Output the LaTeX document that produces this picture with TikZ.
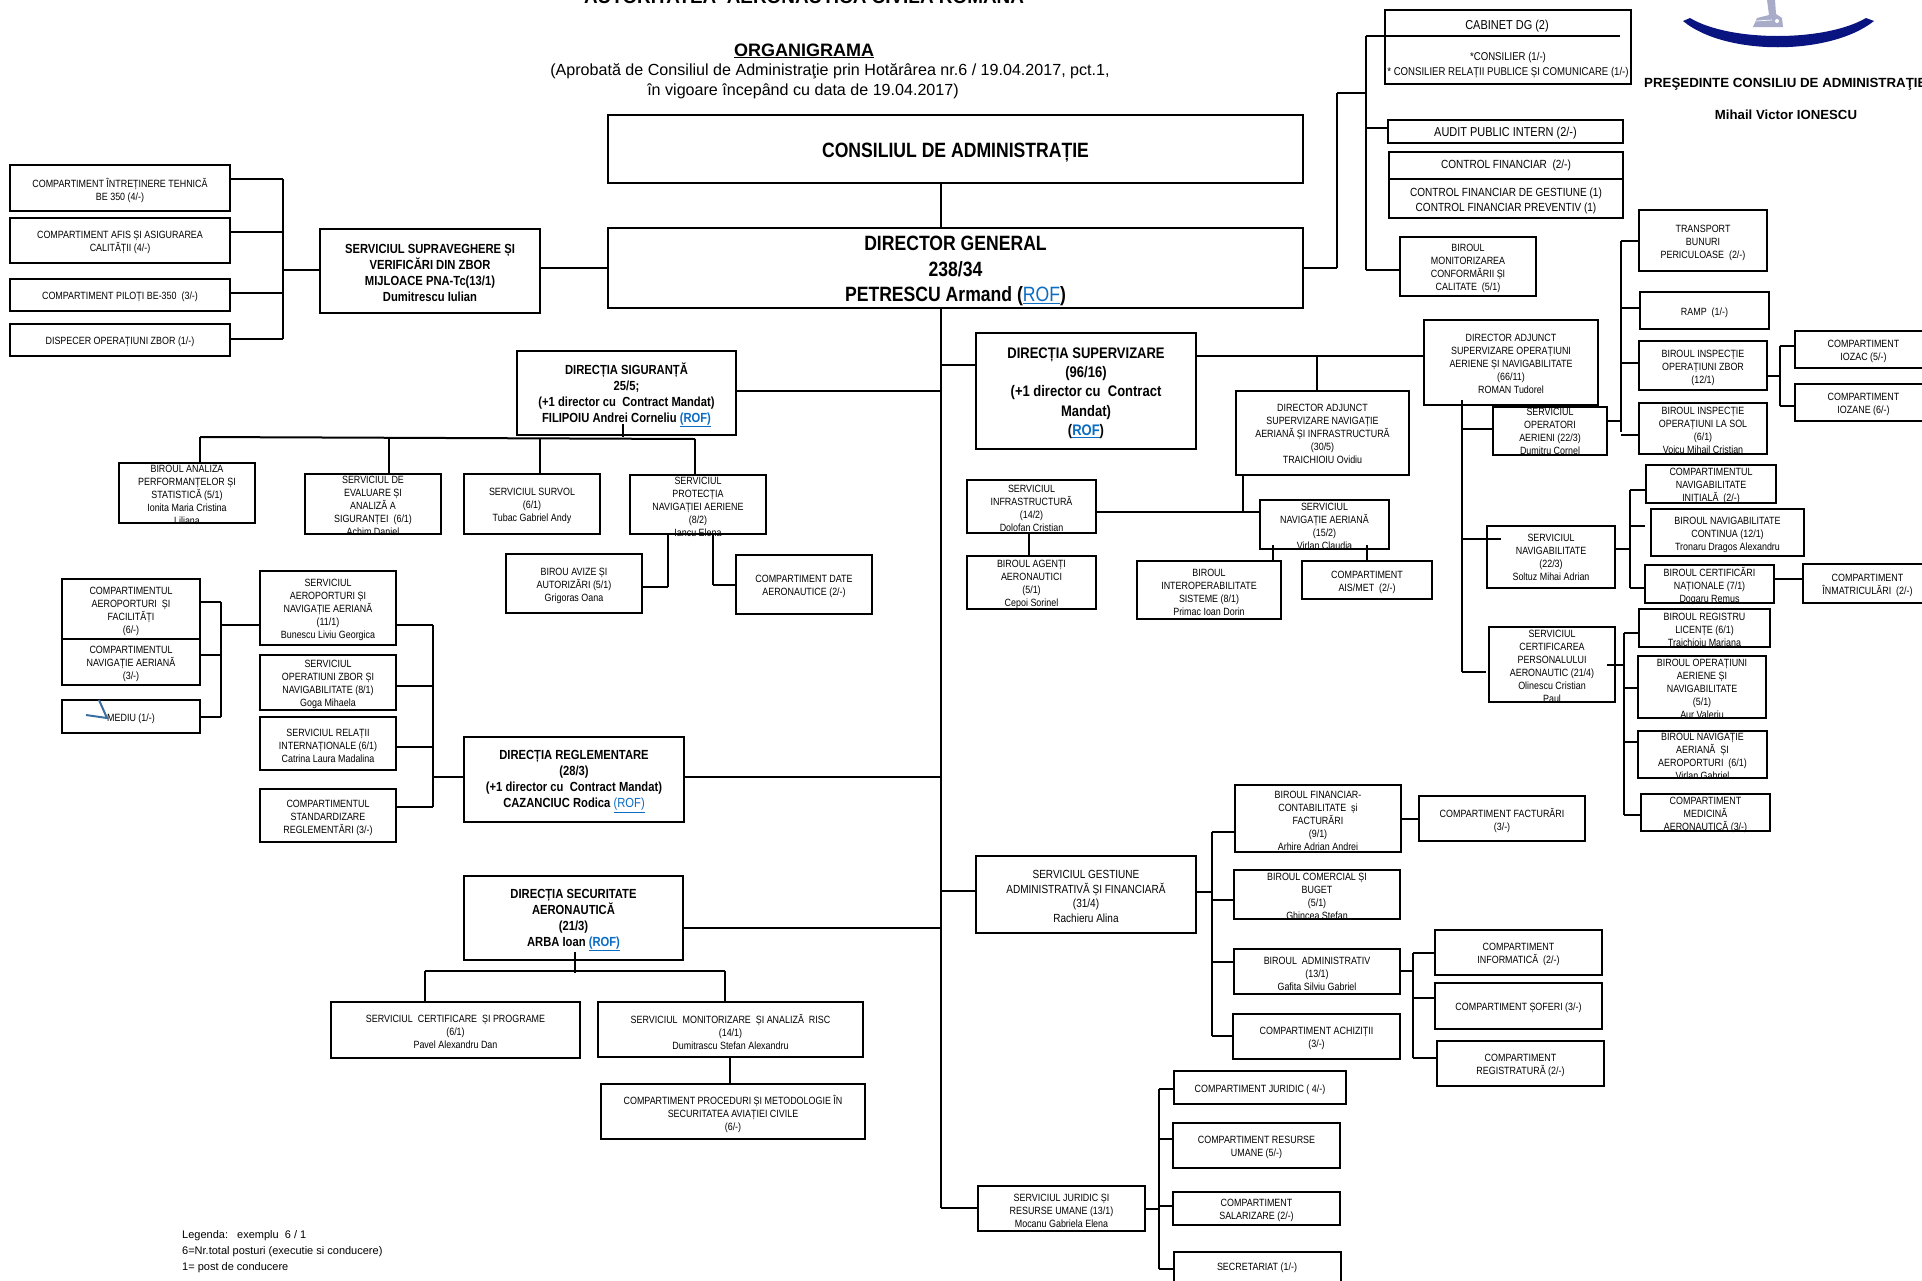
\documentclass[tikz,border=0pt]{standalone}
\usepackage{fontspec}
\setmainfont[FakeStretch=0.85]{Liberation Sans}
\newfontfamily\plainf{Liberation Sans}
\definecolor{rof}{HTML}{0B6CC4}
\definecolor{navy1}{HTML}{0A1480}
\definecolor{logog}{HTML}{A8ACC8}
\newcommand{\fsz}[2]{\fontsize{#1pt}{#2pt}\selectfont}
\newcommand{\rofa}{{\color{rof}\underline{(ROF)}}}
\tikzset{
  boxs/.style={draw=black,line width=1.4pt,inner sep=0pt,rectangle},
  ln/.style={draw=black,line width=1.3pt},
  lnt/.style={draw=black,line width=2pt},
  ts/.style={align=center,inner sep=0pt,font=\fsz{10.5}{13}},
  tm/.style={align=center,inner sep=0pt,font=\fsz{11.8}{14.5}},
  tl/.style={align=center,inner sep=0pt,font=\fsz{12.9}{14.3}},
  tb/.style={align=center,inner sep=0pt,font=\fsz{13.2}{16}\bfseries},
  th/.style={align=center,inner sep=0pt,font=\fsz{15.3}{19.3}\bfseries},
  tg/.style={align=center,inner sep=0pt,font=\fsz{20.7}{25.5}\bfseries},
}
% box: style, name, x1,y1,x2,y2, text
\newcommand{\bx}[7][ts]{%
  \pgfmathsetmacro{\bw}{#5-#3}\pgfmathsetmacro{\bh}{#6-#4}%
  \pgfmathsetmacro{\bcx}{(#5+#3)/2}\pgfmathsetmacro{\bcy}{(#6+#4)/2}%
  \node[boxs,minimum width=\bw pt,minimum height=\bh pt] (#2) at (\bcx,\bcy) {};%
  \node[#1,yshift=-2pt] (#2-t) at (#2.center) {#7};%
}
\newcommand{\hlin}[4][ln]{\draw[#1] (#3 |- 0,#2) -- (#4 |- 0,#2);}
\newcommand{\vlin}[4][ln]{\draw[#1] (#3 -| #2,0) -- (#4 -| #2,0);}
\begin{document}
\begin{tikzpicture}[x=1pt,y=-1pt]
\clip (0,0) rectangle (1922,1280);
\fill[white] (0,0) rectangle (1922,1280);
% header
\node[anchor=base,inner sep=0pt,font=\plainf\fsz{18.9}{22}\bfseries] (hdr) at (804,3) {AUTORITATEA~ AERONAUTICĂ CIVILĂ ROMÂNĂ};
\node[anchor=base,inner sep=0pt,font=\plainf\fsz{18}{22}\bfseries] (org) at (804,56) {\underline{ORGANIGRAMA}};
\node[anchor=base,inner sep=0pt,font=\plainf\fsz{16.1}{18}] (sub1) at (830,75.5) {(Aprobată de Consiliul de Administraţie prin Hotărârea nr.6 / 19.04.2017, pct.1,};
\node[anchor=base,inner sep=0pt,font=\plainf\fsz{16.1}{18}] (sub2) at (803,95) {în vigoare începând cu data de 19.04.2017)};
% logo
\fill[navy1] (1690,18) .. controls (1730,42) and (1825,42) .. (1866,18) -- (1874,21) .. controls (1830,56) and (1725,56) .. (1683,21) -- cycle;
\fill[logog] (1753,27) -- (1783,27) -- (1782,18) -- (1776,14) -- (1775,0) -- (1767,0) -- (1769,15) -- (1757,18) -- cycle;
\fill[white] (1777,21) circle (2pt);
\draw[white,line width=0.7pt] (1756,21) -- (1772,20);
\node[anchor=base west,inner sep=0pt,font=\plainf\fsz{13.3}{16}\bfseries] (pres) at (1644,87) {PREŞEDINTE CONSILIU DE ADMINISTRAŢIE};
\node[anchor=base,inner sep=0pt,font=\plainf\fsz{13.2}{16}\bfseries] (pname) at (1786,119) {Mihail Victor IONESCU};
% main
\bx[tg,yshift=-2pt]{cons}{608}{115}{1303}{183}{CONSILIUL DE ADMINISTRAȚIE}
\bx[tg,yshift=-1pt]{dg}{608}{228}{1303}{308}{DIRECTOR GENERAL\\238/34\\PETRESCU Armand ({\mdseries\color{rof}\underline{ROF}})}
% top-left
\bx{ci}{10}{165}{230}{211}{COMPARTIMENT ÎNTREȚINERE TEHNICĂ\\BE 350 (4/-)}
\bx{ca}{10}{218}{230}{263}{COMPARTIMENT AFIS ȘI ASIGURAREA\\CALITĂȚII (4/-)}
\bx{cp}{10}{279}{230}{311}{COMPARTIMENT PILOȚI BE-350~ (3/-)}
\bx{cd}{10}{324}{230}{356}{DISPECER OPERAȚIUNI ZBOR (1/-)}
\bx[tb]{ssv}{320}{229}{540}{313}{SERVICIUL SUPRAVEGHERE ȘI\\VERIFICĂRI DIN ZBOR\\MIJLOACE PNA-Tc(13/1)\\Dumitrescu Iulian}
% siguranta
\bx[tb]{sig}{517}{351}{736}{435}{DIRECȚIA SIGURANȚĂ\\25/5;\\(+1 director cu~ Contract Mandat)\\FILIPOIU Andrei Corneliu {\color{rof}\underline{(ROF)}}}
\bx{an}{119}{463}{255}{523}{BIROUL ANALIZA\\PERFORMANȚELOR ȘI\\STATISTICĂ (5/1)\\Ionita Maria Cristina\\Liliana}
\bx{ev}{305}{474}{441}{534}{SERVICIUL DE\\EVALUARE ȘI\\ANALIZĂ A\\SIGURANȚEI~ (6/1)\\Achim Daniel}
\bx{su}{464}{474}{600}{534}{SERVICIUL SURVOL\\(6/1)\\Tubac Gabriel Andy}
\bx{pr}{630}{475}{766}{534}{SERVICIUL\\PROTECȚIA\\NAVIGAȚIEI AERIENE\\(8/2)\\Iancu Elena}
\bx{av}{506}{554}{642}{613}{BIROU AVIZE ȘI\\AUTORIZĂRI (5/1)\\Grigoras Oana}
\bx{da}{736}{555}{872}{614}{COMPARTIMENT DATE\\AERONAUTICE (2/-)}
% reglementare
\bx{caf}{62}{579}{200}{639}{COMPARTIMENTUL\\AEROPORTURI~ ȘI\\FACILITĂȚI\\(6/-)}
\bx{cna}{62}{639}{200}{685}{COMPARTIMENTUL\\NAVIGAȚIE AERIANĂ\\(3/-)}
\bx{med}{62}{700}{200}{733}{MEDIU (1/-)}
\bx{sap}{260}{571}{396}{645}{SERVICIUL\\AEROPORTURI ȘI\\NAVIGAȚIE AERIANĂ\\(11/1)\\Bunescu Liviu Georgica}
\bx{soz}{260}{655}{396}{710}{SERVICIUL\\OPERATIUNI ZBOR ȘI\\NAVIGABILITATE (8/1)\\Goga Mihaela}
\bx{sri}{260}{717}{396}{770}{SERVICIUL RELAȚII\\INTERNAȚIONALE (6/1)\\Catrina Laura Madalina}
\bx{csr}{260}{789}{396}{842}{COMPARTIMENTUL\\STANDARDIZARE\\REGLEMENTĂRI (3/-)}
\bx[tb]{reg}{464}{737}{684}{822}{DIRECȚIA REGLEMENTARE\\(28/3)\\(+1 director cu~ Contract Mandat)\\CAZANCIUC Rodica {\mdseries\rofa}}
% securitate
\bx[tb]{sec}{464}{876}{683}{960}{DIRECȚIA SECURITATE\\AERONAUTICĂ\\(21/3)\\ARBA Ioan {\color{rof}\underline{(ROF)}}}
\bx{scp}{331}{1002}{580}{1058}{SERVICIUL~ CERTIFICARE~ ȘI PROGRAME\\(6/1)\\Pavel Alexandru Dan}
\bx{smr}{598}{1002}{863}{1057}{SERVICIUL~ MONITORIZARE~ ȘI ANALIZĂ~ RISC\\(14/1)\\Dumitrascu Stefan Alexandru}
\bx{cpm}{601}{1084}{865}{1139}{COMPARTIMENT PROCEDURI ȘI METODOLOGIE ÎN\\SECURITATEA AVIAȚIEI CIVILE\\(6/-)}
% top right
\bx{cab}{1385}{10}{1631}{84}{}
\node[tl] (cab-a) at (1507,26) {CABINET DG (2)};
\node[font=\fsz{11.3}{14.3},align=center,inner sep=0pt] (cab-b) at (1508,65) {*CONSILIER (1/-)\\* CONSILIER RELAȚII PUBLICE ȘI COMUNICARE (1/-)};
\bx[tl]{aud}{1388}{120}{1623}{143}{AUDIT PUBLIC INTERN (2/-)}
\bx{cof}{1389}{152}{1623}{218}{}
\node[font=\fsz{11.8}{14.3},align=center,inner sep=0pt] (cof-a) at (1506,165) {CONTROL FINANCIAR~ (2/-)};
\node[font=\fsz{11.8}{14.3},align=center,inner sep=0pt] (cof-b) at (1506,201) {CONTROL FINANCIAR DE GESTIUNE (1)\\CONTROL FINANCIAR PREVENTIV (1)};
\bx{bmc}{1400}{237}{1536}{296}{BIROUL\\MONITORIZAREA\\CONFORMĂRII ȘI\\CALITATE~ (5/1)}
% supervizare
\bx[th]{sup}{976}{333}{1196}{449}{DIRECȚIA SUPERVIZARE\\(96/16)\\(+1 director cu~ Contract\\Mandat)\\({\color{rof}\underline{ROF}})}
\bx[ts,yshift=1pt]{adn}{1236}{391}{1409}{475}{DIRECTOR ADJUNCT\\SUPERVIZARE NAVIGAȚIE\\AERIANĂ ȘI INFRASTRUCTURĂ\\(30/5)\\TRAICHIOIU Ovidiu}
\bx[ts,yshift=1pt]{ado}{1424}{320}{1598}{405}{DIRECTOR ADJUNCT\\SUPERVIZARE OPERAȚIUNI\\AERIENE ȘI NAVIGABILITATE\\(66/11)\\ROMAN Tudorel}
\bx{inf}{967}{480}{1096}{533}{SERVICIUL\\INFRASTRUCTURĂ\\(14/2)\\Dolofan Cristian}
\bx{age}{967}{556}{1096}{609}{BIROUL AGENȚI\\AERONAUTICI\\(5/1)\\Cepoi Sorinel}
\bx{sna}{1260}{500}{1389}{549}{SERVICIUL\\NAVIGAȚIE AERIANĂ\\(15/2)\\Virlan Claudia}
\bx{int}{1137}{561}{1281}{619}{BIROUL\\INTEROPERABILITATE\\SISTEME (8/1)\\Primac Ioan Dorin}
\bx{ais}{1302}{561}{1432}{599}{COMPARTIMENT\\AIS/MET~ (2/-)}
\bx{tbp}{1639}{210}{1767}{271}{TRANSPORT\\BUNURI\\PERICULOASE~ (2/-)}
\bx{ram}{1640}{292}{1769}{329}{RAMP~ (1/-)}
\bx{biz}{1639}{341}{1767}{390}{BIROUL INSPECȚIE\\OPERAȚIUNI ZBOR\\(12/1)}
\bx{bis}{1639}{403}{1767}{454}{BIROUL INSPECȚIE\\OPERAȚIUNI LA SOL\\(6/1)\\Voicu Mihail Cristian}
\bx{ioz}{1795}{331}{1932}{368}{COMPARTIMENT\\IOZAC (5/-)}
\bx{iza}{1795}{384}{1932}{421}{COMPARTIMENT\\IOZANE (6/-)}
\bx[ts,yshift=1.5pt]{opa}{1493}{407}{1607}{455}{SERVICIUL\\OPERATORI\\AERIENI (22/3)\\Dumitru Cornel}
\bx[ts,yshift=1.5pt]{nav}{1487}{526}{1615}{588}{SERVICIUL\\NAVIGABILITATE\\(22/3)\\Soltuz Mihai Adrian}
\bx{cni}{1646}{465}{1776}{503}{COMPARTIMENTUL\\NAVIGABILITATE\\INIȚIALĂ~ (2/-)}
\bx{bnc}{1651}{509}{1804}{556}{BIROUL NAVIGABILITATE\\CONTINUA (12/1)\\Tronaru Dragos Alexandru}
\bx{bcn}{1645}{565}{1774}{603}{BIROUL CERTIFICĂRI\\NAȚIONALE (7/1)\\Dogaru Remus}
\bx{cim}{1803}{564}{1932}{603}{COMPARTIMENT\\ÎNMATRICULĂRI~ (2/-)}
\bx{scp2}{1489}{627}{1615}{702}{SERVICIUL\\CERTIFICAREA\\PERSONALULUI\\AERONAUTIC (21/4)\\Olinescu Cristian\\Paul}
\bx{brl}{1639}{609}{1770}{647}{BIROUL REGISTRU\\LICENȚE (6/1)\\Traichioiu Mariana}
\bx{bop}{1638}{656}{1766}{718}{BIROUL OPERAȚIUNI\\AERIENE ȘI\\NAVIGABILITATE\\(5/1)\\Aur Valeriu}
\bx{bna}{1638}{731}{1767}{778}{BIROUL NAVIGAȚIE\\AERIANĂ~ ȘI\\AEROPORTURI~ (6/1)\\Virlan Gabriel}
\bx{cma}{1641}{794}{1770}{831}{COMPARTIMENT\\MEDICINĂ\\AERONAUTICĂ (3/-)}
% gestiune
\bx[tm]{ges}{976}{856}{1196}{933}{SERVICIUL GESTIUNE\\ADMINISTRATIVĂ ȘI FINANCIARĂ\\(31/4)\\Rachieru Alina}
\bx{bfi}{1235}{785}{1401}{852}{BIROUL FINANCIAR-\\CONTABILITATE~ și\\FACTURĂRI\\(9/1)\\Arhire Adrian Andrei}
\bx{cfa}{1419}{796}{1585}{841}{COMPARTIMENT FACTURĂRI\\(3/-)}
\bx{bco}{1234}{870}{1400}{919}{BIROUL COMERCIAL ȘI\\BUGET\\(5/1)\\Ghincea Stefan}
\bx{bad}{1234}{949}{1400}{994}{BIROUL~ ADMINISTRATIV\\(13/1)\\Gafita Silviu Gabriel}
\bx{cac}{1233}{1014}{1400}{1059}{COMPARTIMENT ACHIZIȚII\\(3/-)}
\bx{cin}{1435}{930}{1602}{975}{COMPARTIMENT\\INFORMATICĂ~ (2/-)}
\bx{cso}{1435}{983}{1602}{1029}{COMPARTIMENT ȘOFERI (3/-)}
\bx{cre}{1437}{1041}{1604}{1086}{COMPARTIMENT\\REGISTRATURĂ (2/-)}
% juridic
\bx{sju}{978}{1186}{1145}{1231}{SERVICIUL JURIDIC ȘI\\RESURSE UMANE (13/1)\\Mocanu Gabriela Elena}
\bx{cju}{1174}{1071}{1346}{1104}{COMPARTIMENT JURIDIC ( 4/-)}
\bx{cru}{1173}{1123}{1340}{1168}{COMPARTIMENT RESURSE\\UMANE (5/-)}
\bx{csa}{1173}{1192}{1340}{1225}{COMPARTIMENT\\SALARIZARE (2/-)}
\bx{sct}{1174}{1252}{1341}{1295}{}
\node[ts] (sct-t2) at (1257,1268) {SECRETARIAT (1/-)};
% legend
\node[anchor=base west,inner sep=0pt,font=\plainf\fsz{11}{16},align=left] (leg1) at (182,1238) {Legenda:~~~exemplu~ 6 / 1};
\node[anchor=base west,inner sep=0pt,font=\plainf\fsz{11}{16},align=left] (leg2) at (182,1254) {6=Nr.total posturi (executie si conducere)};
\node[anchor=base west,inner sep=0pt,font=\plainf\fsz{11}{16},align=left] (leg3) at (182,1270) {1= post de conducere};
% blue mark in MEDIU
\draw[line width=2pt,color=rof!70!black!80] (99,700) -- (107,718) -- (86,715);
% bus coordinates
\coordinate (T) at (941,0);
\coordinate (Bl) at (283,0);
\coordinate (Bt) at (1366,0);
\coordinate (Bd) at (1337,0);
\coordinate (Bo) at (1621,0);
\coordinate (Bi) at (1780,0);
\coordinate (Bv) at (1462,0);
\coordinate (Bn) at (1630,0);
\coordinate (Bc) at (1624,0);
\coordinate (Bg) at (1212,0);
\coordinate (Ba) at (1413,0);
\coordinate (Bj) at (1159,0);
\coordinate (Bm) at (221,0);
\coordinate (Br) at (433,0);
\coordinate (Pa) at (668,0);
\coordinate (Pb) at (713,0);
% trunk
\draw[lnt] (T |- cons.south) -- (T |- dg.north);
\draw[lnt] (T |- dg.south) -- (T |- 0,1208);
\hlin{268}{ssv.east}{dg.west}
\hlin{391}{sig.east}{T}
\hlin{365}{T}{sup.west}
\hlin{777}{reg.east}{T}
\hlin{928}{sec.east}{T}
\hlin{891}{T}{ges.west}
\hlin{1208}{T}{sju.west}
% left bus SSV
\draw[ln] (Bl |- 0,179) -- (Bl |- 0,339);
\hlin{179}{ci.east}{Bl}
\hlin{232}{ca.east}{Bl}
\hlin[lnt]{293}{cp.east}{Bl}
\hlin{339}{cd.east}{Bl}
\hlin[lnt]{270}{Bl}{ssv.west}
% siguranta
\draw[lnt] (200,437) -- (695,439);
\vlin{623}{0,424}{0,437}
\vlin[lnt]{200}{0,437}{an.north}
\vlin{389}{0,438}{ev.north}
\vlin[lnt]{540}{0,438}{su.north}
\vlin{695}{0,439}{pr.north}
\vlin{668}{pr.south}{0,587}
\hlin[lnt]{587}{av.east}{Pa}
\vlin{713}{pr.south}{0,585}
\hlin[lnt]{585}{Pb}{da.west}
% reglementare
\draw[ln] (Bm |- 0,602) -- (Bm |- 0,717);
\hlin[lnt]{602}{caf.east}{Bm}
\hlin{655}{cna.east}{Bm}
\hlin{717}{med.east}{Bm}
\hlin{625}{Bm}{sap.west}
\draw[lnt] (Br |- 0,625) -- (Br |- 0,807);
\hlin[lnt]{625}{sap.east}{Br}
\hlin[lnt]{686}{soz.east}{Br}
\hlin{747}{sri.east}{Br}
\hlin{807}{csr.east}{Br}
\hlin[lnt]{777}{Br}{reg.west}
% securitate
\vlin{575}{0,952}{0,973}
\draw[ln] (425,971) -- (725,971);
\vlin{425}{0,971}{scp.north}
\vlin{725}{0,971}{smr.north}
\vlin[lnt]{730}{smr.south}{cpm.north}
% top right
\hlin{268}{dg.east}{Bd}
\draw[ln] (Bd |- 0,268) -- (Bd |- 0,93);
\hlin{93}{Bd}{Bt}
\draw[ln] (Bt |- 0,36) -- (Bt |- 0,270);
\draw[lnt] (Bt |- 0,36) -- (1620,36);
\hlin[lnt]{128}{Bt}{aud.west}
\hlin{179}{cof.west}{cof.east}
\hlin{270}{Bt}{bmc.west}
% supervizare
\hlin[lnt]{356}{sup.east}{ado.west}
\vlin[lnt]{1317}{0,356}{adn.north}
\vlin{1243}{adn.south}{0,512}
\hlin[lnt]{512}{inf.east}{sna.west}
\vlin{1029}{inf.south}{age.north}
\vlin{1273}{0,545}{int.north}
\vlin{1367}{0,545}{ais.north}
% Operatiuni bus
\draw[ln] (Bo |- 0,241) -- (Bo |- 0,432);
\hlin{241}{Bo}{tbp.west}
\hlin{308}{Bo}{ram.west}
\hlin[lnt]{363}{Bo}{biz.west}
\hlin{435}{Bo}{bis.west}
\hlin{421}{opa.east}{Bo}
\hlin[lnt]{376}{biz.east}{Bi}
\draw[ln] (Bi |- 0,346) -- (Bi |- 0,406);
\hlin{346}{Bi}{ioz.west}
\hlin{406}{Bi}{iza.west}
\draw[ln] (Bv |- 0,400) -- (Bv |- 0,672);
\hlin{429}{Bv}{opa.west}
\hlin[lnt]{539}{Bv}{1501,0}
\hlin{672}{Bv}{1486,0}
% navigabilitate
\draw[lnt] (Bn |- 0,490) -- (Bn |- 0,588);
\hlin{549}{nav.east}{Bn}
\hlin{490}{Bn}{cni.west}
\hlin{526}{Bn}{1645,0}
\hlin{588}{Bn}{bcn.west}
\hlin[lnt]{579}{bcn.east}{cim.west}
% certificare
\draw[lnt] (Bc |- 0,633) -- (Bc |- 0,815);
\hlin[lnt]{665}{1607,0}{Bc}
\hlin{633}{Bc}{brl.west}
\hlin{688}{Bc}{bop.west}
\hlin[lnt]{742}{Bc}{bna.west}
\hlin[lnt]{815}{Bc}{cma.west}
% gestiune
\draw[lnt] (Bg |- 0,832) -- (Bg |- 0,1036);
\hlin{892}{ges.east}{Bg}
\hlin{832}{Bg}{bfi.west}
\hlin{900}{Bg}{bco.west}
\hlin[lnt]{962}{Bg}{bad.west}
\hlin{1036}{Bg}{cac.west}
\hlin[lnt]{819}{bfi.east}{cfa.west}
\draw[ln] (Ba |- 0,953) -- (Ba |- 0,1058);
\hlin{971}{bad.east}{Ba}
\hlin{953}{Ba}{cin.west}
\hlin{998}{Ba}{cso.west}
\hlin{1058}{Ba}{cre.west}
% juridic
\draw[lnt] (Bj |- 0,1089) -- (Bj |- 0,1269);
\hlin{1209}{sju.east}{Bj}
\hlin{1089}{Bj}{cju.west}
\hlin{1139}{Bj}{cru.west}
\hlin{1206}{Bj}{csa.west}
\hlin{1269}{Bj}{sct.west}
\end{tikzpicture}
\end{document}
